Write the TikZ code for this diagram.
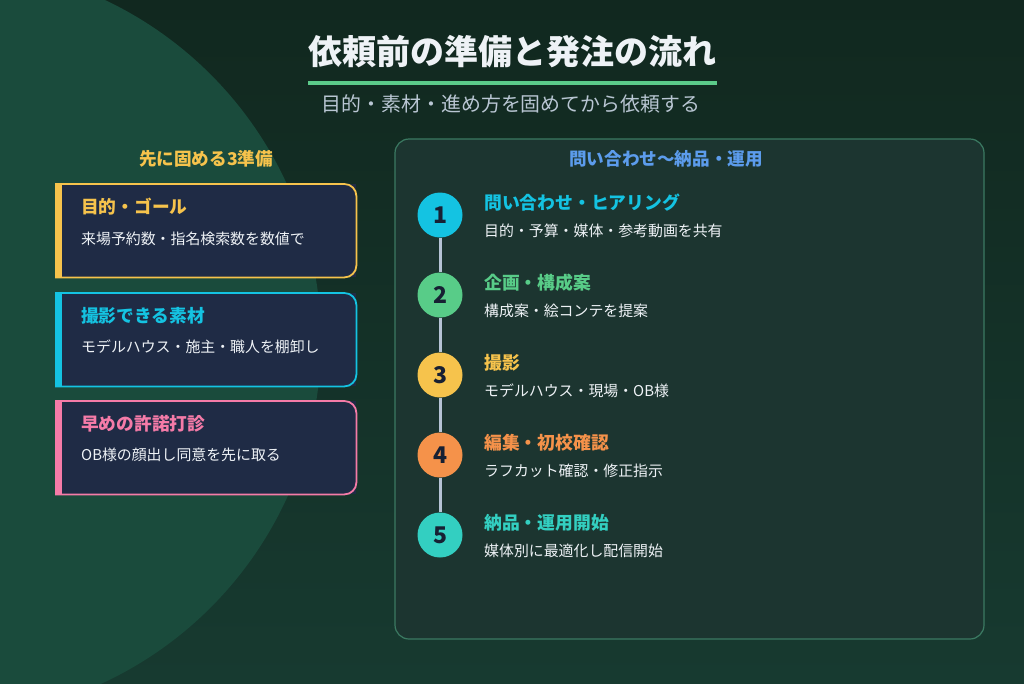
\documentclass[tikz,border=0pt]{standalone}
\usepackage{fontspec}
\setmainfont{Noto Sans CJK JP}
\usetikzlibrary{positioning}
\definecolor{bgtop}{HTML}{11281F}
\definecolor{bgbot}{HTML}{173A30}
\definecolor{blob}{HTML}{1A4B3C}
\definecolor{panelbg}{HTML}{1C3530}
\definecolor{paneledge}{HTML}{3B7A62}
\definecolor{cardbg}{HTML}{1F2B45}
\definecolor{txtwhite}{HTML}{EEF2F6}
\definecolor{subgray}{HTML}{B9C6D3}
\definecolor{rulegreen}{HTML}{5CCB8A}
\definecolor{gold}{HTML}{F6C34C}
\definecolor{aqua}{HTML}{14C3E2}
\definecolor{rose}{HTML}{F57BA8}
\definecolor{sky}{HTML}{5C9CEC}
\definecolor{leaf}{HTML}{58CC88}
\definecolor{amber}{HTML}{F5924A}
\definecolor{teal}{HTML}{33CFC1}
\definecolor{numink}{HTML}{172033}
\definecolor{railgray}{HTML}{B6C3D5}

\begin{document}
\begin{tikzpicture}[x=1pt,y=-1pt,every node/.style={inner sep=0pt,text=txtwhite},
  cardbox/.style={fill=cardbg,minimum width=300pt,minimum height=93pt,anchor=north west},
  cardedge/.style={line width=1.8pt,draw=#1},
  cardtitle/.style={anchor=west,font=\fontsize{17.7}{20}\selectfont\bfseries},
  cardbody/.style={anchor=west,font=\fontsize{14.9}{17}\selectfont},
  stepdot/.style={circle,fill=#1,minimum size=45pt,text=numink,font=\fontsize{23}{25}\selectfont\bfseries},
  steptitle/.style={anchor=west,font=\fontsize{17.8}{20}\selectfont\bfseries},
  stepbody/.style={anchor=west,font=\fontsize{14.9}{17}\selectfont},
  rail/.style={draw=railgray,line width=3pt}]
\useasboundingbox (0,0) rectangle (1024,683);
\shade[top color=bgtop,bottom color=bgbot] (0,0) rectangle (1024,683);
\begin{scope}
\clip (0,0) rectangle (1024,683);
\fill[blob] (-56,341) circle[radius=377];
\end{scope}

\node[font=\fontsize{34}{37}\selectfont\bfseries] (title) at (512,52) {依頼前の準備と発注の流れ};
\draw[rulegreen,line width=3.5pt] (308,83) -- (717,83);
\node[text=subgray,font=\fontsize{19.9}{22}\selectfont] (subtitle) at (511,104) {目的・素材・進め方を固めてから依頼する};

\node[text=gold,font=\fontsize{17.6}{20}\selectfont\bfseries] (prephead) at (206,159) {先に固める3準備};

\node[cardbox] (card1) at (56,184) {};
\draw[cardedge=gold,fill=cardbg] (card1.north west) -- ([xshift=-12pt]card1.north east) arc[start angle=90,end angle=0,radius=12pt] -- ([yshift=12pt]card1.south east) arc[start angle=0,end angle=-90,radius=12pt] -- (card1.south west) -- cycle;
\fill[gold] (card1.north west) rectangle ([xshift=6pt]card1.south west);
\node[cardtitle,text=gold] (card1t) at (81,207) {目的・ゴール};
\node[cardbody] (card1b) at (81,239) {来場予約数・指名検索数を数値で};

\node[cardbox] (card2) at (56,293) {};
\draw[cardedge=aqua,fill=cardbg] (card2.north west) -- ([xshift=-12pt]card2.north east) arc[start angle=90,end angle=0,radius=12pt] -- ([yshift=12pt]card2.south east) arc[start angle=0,end angle=-90,radius=12pt] -- (card2.south west) -- cycle;
\fill[aqua] (card2.north west) rectangle ([xshift=6pt]card2.south west);
\node[cardtitle,text=aqua] (card2t) at (81,316) {撮影できる素材};
\node[cardbody] (card2b) at (81,347) {モデルハウス・施主・職人を棚卸し};

\node[cardbox] (card3) at (56,401) {};
\draw[cardedge=rose,fill=cardbg] (card3.north west) -- ([xshift=-12pt]card3.north east) arc[start angle=90,end angle=0,radius=12pt] -- ([yshift=12pt]card3.south east) arc[start angle=0,end angle=-90,radius=12pt] -- (card3.south west) -- cycle;
\fill[rose] (card3.north west) rectangle ([xshift=6pt]card3.south west);
\node[cardtitle,text=rose] (card3t) at (81,424) {早めの許諾打診};
\node[cardbody] (card3b) at (81,455) {OB様の顔出し同意を先に取る};

\draw[paneledge,fill=panelbg,line width=1.2pt,rounded corners=14pt] (395,139) rectangle (984,639);
\node[text=sky,font=\fontsize{17.6}{20}\selectfont\bfseries] (flowhead) at (666,159) {問い合わせ〜納品・運用};

\node[stepdot=aqua] (s1) at (440,215) {1};
\node[stepdot=leaf] (s2) at (440,295) {2};
\node[stepdot=gold] (s3) at (440,375) {3};
\node[stepdot=amber] (s4) at (440,455) {4};
\node[stepdot=teal] (s5) at (440,535) {5};
\draw[rail] (s1.south) -- (s2.north);
\draw[rail] (s2.south) -- (s3.north);
\draw[rail] (s3.south) -- (s4.north);
\draw[rail] (s4.south) -- (s5.north);

\node[steptitle,text=aqua] (s1t) at (484,203) {問い合わせ・ヒアリング};
\node[stepbody] (s1b) at (484,231) {目的・予算・媒体・参考動画を共有};
\node[steptitle,text=leaf] (s2t) at (484,283) {企画・構成案};
\node[stepbody] (s2b) at (484,311) {構成案・絵コンテを提案};
\node[steptitle,text=gold] (s3t) at (484,363) {撮影};
\node[stepbody] (s3b) at (484,391) {モデルハウス・現場・OB様};
\node[steptitle,text=amber] (s4t) at (484,443) {編集・初校確認};
\node[stepbody] (s4b) at (484,471) {ラフカット確認・修正指示};
\node[steptitle,text=teal] (s5t) at (484,523) {納品・運用開始};
\node[stepbody] (s5b) at (484,551) {媒体別に最適化し配信開始};
\end{tikzpicture}
\end{document}
